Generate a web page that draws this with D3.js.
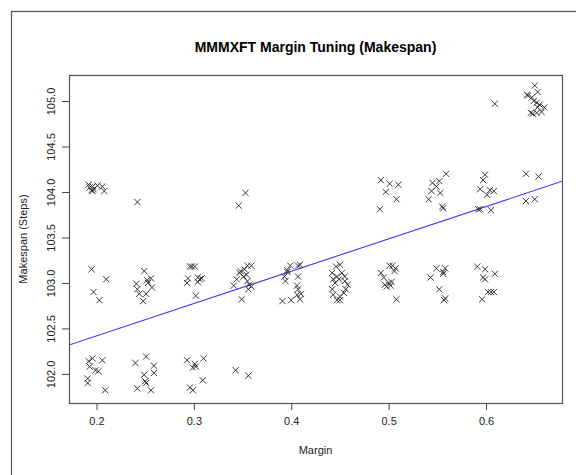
<!DOCTYPE html>
<html>
<head>
<meta charset="utf-8">
<script src="https://cdn.jsdelivr.net/npm/d3@7"></script>
<style>
  body { margin: 0; background: #fff; }
  svg text { font-family: "Liberation Sans", Arial, sans-serif; fill: #222; }
</style>
</head>
<body>
<div id="chart"></div>
<script>
// margin values of each run, grouped roughly by the tested margin
var margins = [
  // 0.2
  0.192, 0.196, 0.195, 0.197, 0.201, 0.206, 0.208, 0.196, 0.193,
  0.195, 0.210, 0.197, 0.203,
  0.196, 0.192, 0.206, 0.193, 0.199, 0.202, 0.191, 0.191, 0.209,
  // 0.25
  0.242,
  0.249, 0.241, 0.242, 0.244, 0.251, 0.248, 0.252, 0.256, 0.257, 0.253,
  0.240, 0.251, 0.259, 0.249, 0.250, 0.259, 0.242, 0.256, 0.251,
  // 0.3
  0.296, 0.298, 0.301, 0.294, 0.293, 0.304, 0.306, 0.308, 0.304, 0.302,
  0.293, 0.301, 0.299, 0.302, 0.310, 0.309, 0.296, 0.299,
  // 0.35
  0.346, 0.353,
  0.341, 0.344, 0.347, 0.352, 0.355, 0.359, 0.351, 0.355, 0.357, 0.356, 0.349, 0.354, 0.359, 0.348,
  0.343, 0.356,
  // 0.4
  0.391, 0.393, 0.394, 0.396, 0.399, 0.396, 0.407, 0.409, 0.407, 0.406, 0.407, 0.409, 0.400, 0.406, 0.410,
  // 0.45
  0.442, 0.446, 0.450, 0.443, 0.445, 0.447, 0.452, 0.455, 0.442, 0.443, 0.447, 0.450, 0.450,
  0.455, 0.458, 0.456, 0.454, 0.449,
  // 0.5
  0.492, 0.501, 0.510, 0.497, 0.508, 0.491,
  0.501, 0.504, 0.507, 0.506, 0.492, 0.495, 0.496, 0.500, 0.503, 0.498, 0.502, 0.508,
  // 0.55
  0.559, 0.552, 0.545, 0.549, 0.544, 0.553, 0.541, 0.555, 0.556,
  0.549, 0.558, 0.543, 0.556, 0.556, 0.552, 0.558, 0.557,
  // 0.6
  0.599, 0.597, 0.594, 0.604, 0.601, 0.608, 0.592, 0.594, 0.605,
  0.591, 0.599, 0.597, 0.599, 0.609, 0.596, 0.602, 0.605, 0.608,
  0.609,
  // 0.65
  0.650, 0.653, 0.642, 0.647, 0.649, 0.652, 0.655, 0.660, 0.646, 0.648, 0.652, 0.657, 0.643, 0.653,
  0.641, 0.654, 0.641, 0.650
];

var makespans = [
  // 0.2
  104.08, 104.06, 104.02, 104.03, 104.07, 104.06, 104.01, 104.01, 104.05,
  103.15, 103.04, 102.90, 102.81,
  102.17, 102.14, 102.15, 102.08, 102.04, 102.03, 101.95, 101.90, 101.82,
  // 0.25
  103.89,
  103.13, 102.99, 102.93, 102.88, 102.88, 102.80, 103.03, 103.05, 102.95, 103.00,
  102.12, 102.19, 102.09, 101.99, 101.92, 102.01, 101.84, 101.82, 101.90,
  // 0.3
  103.18, 103.18, 103.18, 103.05, 103.00, 103.06, 103.04, 103.05, 103.01, 102.86,
  102.15, 102.11, 102.07, 102.08, 102.17, 101.93, 101.85, 101.82,
  // 0.35
  103.85, 103.99,
  102.97, 103.04, 103.11, 103.15, 103.19, 103.19, 103.07, 103.02, 102.98, 102.93, 102.82, 103.09, 102.96, 103.13,
  102.04, 101.98,
  // 0.4
  102.80, 103.07, 103.02, 103.14, 103.19, 103.12, 103.19, 103.20, 103.07, 102.97, 102.93, 102.82, 102.81, 102.87, 102.88,
  // 0.45
  103.11, 103.18, 103.20, 103.04, 103.00, 103.07, 103.11, 103.07, 102.93, 102.87, 102.81, 102.81, 102.85,
  103.02, 102.98, 102.93, 102.89, 103.04,
  // 0.5
  104.13, 104.09, 104.08, 104.00, 103.92, 103.81,
  103.19, 103.19, 103.16, 103.13, 103.11, 103.06, 102.98, 103.00, 103.01, 102.96, 102.97, 102.82,
  // 0.55
  104.20, 104.12, 104.10, 104.06, 104.01, 103.99, 103.92, 103.84, 103.82,
  103.16, 103.16, 103.06, 103.12, 103.10, 102.93, 102.83, 102.81,
  // 0.6
  104.19, 104.13, 104.03, 104.02, 103.97, 104.01, 103.81, 103.81, 103.80,
  103.18, 103.15, 103.06, 103.04, 103.10, 102.82, 102.90, 102.90, 102.90,
  104.97,
  // 0.65
  105.17, 105.10, 105.07, 105.04, 105.00, 104.98, 104.96, 104.93, 104.87, 104.86, 104.87, 104.88, 105.06, 104.93,
  104.20, 104.17, 103.90, 103.92
];

var xTicks = [0.2, 0.3, 0.4, 0.5, 0.6];
var yTicks = [102.0, 102.5, 103.0, 103.5, 104.0, 104.5, 105.0];

// fitted line
var fitIntercept = 101.706;
var fitSlope = 3.557;

var width = 576, height = 475;
var box = {left: 69, right: 562, top: 75, bottom: 403};

var svg = d3.select("#chart").append("svg")
  .attr("width", width)
  .attr("height", height);

// outer frame
svg.append("rect")
  .attr("x", 11.5)
  .attr("y", 11.5)
  .attr("width", 700)
  .attr("height", 600)
  .style("fill", "none")
  .style("stroke", "#555")
  .style("stroke-width", 1.2);

var x = d3.scaleLinear()
  .domain([0.1718, 0.678])
  .range([box.left, box.right]);

var y = d3.scaleLinear()
  .domain([101.68, 105.286])
  .range([box.bottom, box.top]);

// x axis
var xAxis = svg.append("g")
  .attr("transform", "translate(0," + box.bottom + ")")
  .call(d3.axisBottom(x).tickValues(xTicks).tickSize(7).tickPadding(7)
    .tickFormat(d3.format(".1f")));
xAxis.select(".domain").remove();
xAxis.selectAll("line").style("stroke", "#444");
xAxis.selectAll("text").style("font-size", "11px");

// y axis
var yAxis = svg.append("g")
  .attr("transform", "translate(" + box.left + ",0)")
  .call(d3.axisLeft(y).tickValues(yTicks).tickSize(7)
    .tickFormat(d3.format(".1f")));
yAxis.select(".domain").remove();
yAxis.selectAll("line").style("stroke", "#444");
yAxis.selectAll("text")
  .style("font-size", "11px")
  .attr("x", null)
  .attr("dy", null)
  .attr("text-anchor", "middle")
  .attr("transform", "translate(-14,0) rotate(-90)");

// plot box
svg.append("rect")
  .attr("x", box.left + 0.5)
  .attr("y", box.top + 0.5)
  .attr("width", box.right - box.left)
  .attr("height", box.bottom - box.top)
  .style("fill", "none")
  .style("stroke", "#555")
  .style("stroke-width", 1.2);

// regression line, clipped to the box
svg.append("clipPath").attr("id", "clip")
  .append("rect")
  .attr("x", box.left).attr("y", box.top)
  .attr("width", box.right - box.left).attr("height", box.bottom - box.top);

var x0 = x.domain()[0], x1 = x.domain()[1];
svg.append("line")
  .attr("clip-path", "url(#clip)")
  .attr("x1", x(x0))
  .attr("y1", y(fitIntercept + fitSlope * x0))
  .attr("x2", x(x1))
  .attr("y2", y(fitIntercept + fitSlope * x1))
  .style("stroke", "#3b3bff")
  .style("stroke-width", 1.1);

// points as "x" marks
var pts = margins.map(function (m, i) { return {m: m, s: makespans[i]}; });
var r = 3.1;
svg.append("g").selectAll("path")
  .data(pts)
  .enter().append("path")
  .attr("d", function (d) {
    var cx = x(d.m), cy = y(d.s);
    return "M" + (cx - r) + "," + (cy - r) + "L" + (cx + r) + "," + (cy + r) +
           "M" + (cx - r) + "," + (cy + r) + "L" + (cx + r) + "," + (cy - r);
  })
  .style("stroke", "#222")
  .style("stroke-width", 0.9)
  .style("fill", "none");

// titles
svg.append("text")
  .attr("x", (box.left + box.right) / 2)
  .attr("y", 52)
  .attr("text-anchor", "middle")
  .style("font-size", "14px")
  .style("font-weight", "bold")
  .style("fill", "#000")
  .text("MMMXFT Margin Tuning (Makespan)");

svg.append("text")
  .attr("x", (box.left + box.right) / 2)
  .attr("y", 454)
  .attr("text-anchor", "middle")
  .style("font-size", "11px")
  .text("Margin");

svg.append("text")
  .attr("transform", "translate(27," + ((box.top + box.bottom) / 2) + ") rotate(-90)")
  .attr("text-anchor", "middle")
  .style("font-size", "11px")
  .text("Makespan (Steps)");
</script>
</body>
</html>
